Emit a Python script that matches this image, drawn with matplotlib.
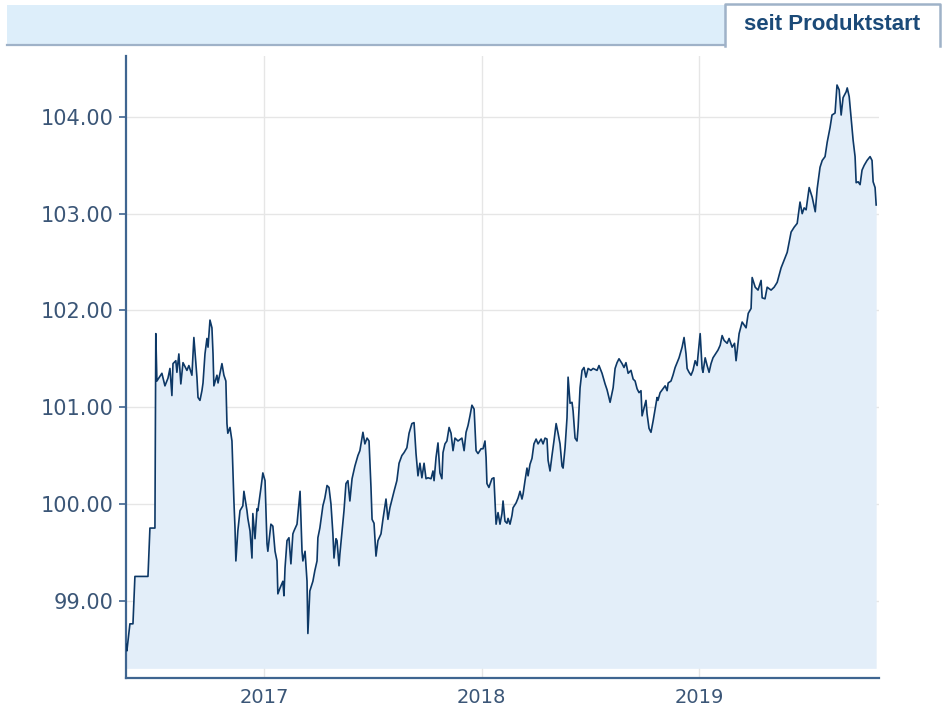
import matplotlib
matplotlib.use("Agg")
import matplotlib.pyplot as plt
from matplotlib.patches import Rectangle
from matplotlib.lines import Line2D

# ---- data (decimal years, price) ----
years = [
    2016.366, 2016.370, 2016.384, 2016.398, 2016.402, 2016.407, 2016.467, 2016.476, 2016.499, 2016.503,
    2016.508, 2016.531, 2016.545, 2016.559, 2016.568, 2016.577, 2016.582, 2016.595, 2016.600, 2016.609,
    2016.618, 2016.628, 2016.646, 2016.655, 2016.669, 2016.678, 2016.692, 2016.697, 2016.706, 2016.715,
    2016.720, 2016.729, 2016.738, 2016.743, 2016.752, 2016.761, 2016.766, 2016.770, 2016.784, 2016.789,
    2016.798, 2016.807, 2016.816, 2016.825, 2016.830, 2016.834, 2016.844, 2016.853, 2016.862, 2016.867,
    2016.871, 2016.880, 2016.890, 2016.903, 2016.908, 2016.917, 2016.922, 2016.926, 2016.936, 2016.945,
    2016.949, 2016.959, 2016.968, 2016.972, 2016.986, 2016.995, 2017.005, 2017.014, 2017.018, 2017.032,
    2017.041, 2017.051, 2017.060, 2017.064, 2017.074, 2017.087, 2017.092, 2017.097, 2017.106, 2017.115,
    2017.124, 2017.133, 2017.138, 2017.152, 2017.161, 2017.166, 2017.175, 2017.179, 2017.189, 2017.198,
    2017.202, 2017.211, 2017.221, 2017.225, 2017.234, 2017.244, 2017.248, 2017.257, 2017.271, 2017.280,
    2017.290, 2017.299, 2017.308, 2017.317, 2017.322, 2017.331, 2017.336, 2017.345, 2017.349, 2017.359,
    2017.368, 2017.377, 2017.386, 2017.395, 2017.405, 2017.418, 2017.432, 2017.441, 2017.455, 2017.464,
    2017.474, 2017.483, 2017.492, 2017.497, 2017.506, 2017.515, 2017.524, 2017.538, 2017.547, 2017.561,
    2017.570, 2017.579, 2017.589, 2017.598, 2017.611, 2017.621, 2017.634, 2017.644, 2017.657, 2017.667,
    2017.680, 2017.690, 2017.699, 2017.708, 2017.717, 2017.726, 2017.736, 2017.745, 2017.754, 2017.768,
    2017.777, 2017.782, 2017.791, 2017.800, 2017.809, 2017.818, 2017.823, 2017.832, 2017.841, 2017.851,
    2017.860, 2017.869, 2017.878, 2017.892, 2017.910, 2017.920, 2017.929, 2017.938, 2017.947, 2017.956,
    2017.966, 2017.975, 2017.984, 2017.998, 2018.007, 2018.016, 2018.021, 2018.025, 2018.034, 2018.048,
    2018.057, 2018.067, 2018.076, 2018.085, 2018.094, 2018.099, 2018.108, 2018.117, 2018.122, 2018.131,
    2018.140, 2018.145, 2018.159, 2018.168, 2018.177, 2018.186, 2018.191, 2018.200, 2018.209, 2018.214,
    2018.223, 2018.232, 2018.241, 2018.251, 2018.260, 2018.274, 2018.283, 2018.292, 2018.301, 2018.306,
    2018.315, 2018.324, 2018.333, 2018.343, 2018.352, 2018.361, 2018.370, 2018.375, 2018.384, 2018.393,
    2018.398, 2018.407, 2018.416, 2018.421, 2018.430, 2018.439, 2018.444, 2018.453, 2018.462, 2018.471,
    2018.480, 2018.490, 2018.503, 2018.513, 2018.531, 2018.540, 2018.554, 2018.568, 2018.577, 2018.591,
    2018.605, 2018.614, 2018.623, 2018.632, 2018.646, 2018.655, 2018.664, 2018.674, 2018.687, 2018.697,
    2018.706, 2018.715, 2018.724, 2018.733, 2018.738, 2018.747, 2018.756, 2018.761, 2018.770, 2018.779,
    2018.789, 2018.798, 2018.807, 2018.811, 2018.821, 2018.834, 2018.844, 2018.853, 2018.858, 2018.871,
    2018.880, 2018.890, 2018.899, 2018.908, 2018.922, 2018.931, 2018.940, 2018.945, 2018.954, 2018.963,
    2018.972, 2018.982, 2018.991, 2018.995, 2019.005, 2019.014, 2019.018, 2019.028, 2019.037, 2019.046,
    2019.055, 2019.064, 2019.078, 2019.087, 2019.097, 2019.106, 2019.115, 2019.129, 2019.138, 2019.152,
    2019.163, 2019.170, 2019.184, 2019.198, 2019.216, 2019.226, 2019.239, 2019.244, 2019.258, 2019.271,
    2019.285, 2019.290, 2019.303, 2019.313, 2019.331, 2019.345, 2019.359, 2019.377, 2019.391, 2019.405,
    2019.423, 2019.437, 2019.451, 2019.464, 2019.474, 2019.483, 2019.492, 2019.506, 2019.520, 2019.534,
    2019.543, 2019.556, 2019.566, 2019.579, 2019.589, 2019.602, 2019.611, 2019.625, 2019.634, 2019.644,
    2019.653, 2019.662, 2019.676, 2019.681, 2019.690, 2019.699, 2019.708, 2019.717, 2019.722, 2019.731,
    2019.740, 2019.749, 2019.759, 2019.772, 2019.786, 2019.795, 2019.800, 2019.809, 2019.814,
]
prices = [
    98.55, 98.48, 98.76, 98.76, 98.99, 99.25, 99.25, 99.75, 99.75, 101.76,
    101.27, 101.35, 101.22, 101.30, 101.40, 101.12, 101.45, 101.48, 101.36, 101.55,
    101.24, 101.46, 101.38, 101.43, 101.33, 101.72, 101.31, 101.10, 101.07, 101.17,
    101.25, 101.55, 101.71, 101.62, 101.90, 101.82, 101.55, 101.22, 101.33, 101.25,
    101.35, 101.45, 101.33, 101.27, 100.83, 100.73, 100.79, 100.65, 100.03, 99.75,
    99.41, 99.72, 99.93, 99.98, 100.13, 100.00, 99.93, 99.85, 99.72, 99.44,
    99.90, 99.64, 99.95, 99.93, 100.16, 100.32, 100.24, 99.59, 99.51, 99.79,
    99.77, 99.51, 99.41, 99.07, 99.13, 99.20, 99.05, 99.34, 99.62, 99.65,
    99.38, 99.69, 99.72, 99.79, 100.01, 100.13, 99.51, 99.41, 99.51, 99.20,
    98.66, 99.10, 99.17, 99.20, 99.31, 99.41, 99.65, 99.75, 99.98, 100.06,
    100.19, 100.17, 100.00, 99.69, 99.44, 99.64, 99.62, 99.36, 99.48, 99.72,
    99.93, 100.21, 100.24, 100.03, 100.26, 100.39, 100.50, 100.55, 100.74, 100.62,
    100.68, 100.65, 100.17, 99.84, 99.80, 99.46, 99.62, 99.69, 99.84, 100.05,
    99.84, 99.96, 100.05, 100.13, 100.24, 100.42, 100.50, 100.53, 100.58, 100.73,
    100.83, 100.84, 100.52, 100.29, 100.42, 100.27, 100.42, 100.26, 100.27, 100.26,
    100.34, 100.24, 100.48, 100.63, 100.32, 100.26, 100.53, 100.62, 100.65, 100.79,
    100.73, 100.55, 100.68, 100.65, 100.68, 100.55, 100.74, 100.81, 100.91, 101.02,
    100.98, 100.55, 100.52, 100.57, 100.57, 100.65, 100.48, 100.21, 100.17, 100.26,
    100.27, 99.79, 99.91, 99.79, 99.90, 100.03, 99.82, 99.80, 99.85, 99.79,
    99.88, 99.96, 100.01, 100.06, 100.13, 100.05, 100.10, 100.24, 100.37, 100.29,
    100.41, 100.47, 100.62, 100.67, 100.62, 100.67, 100.62, 100.68, 100.67, 100.45,
    100.34, 100.50, 100.65, 100.83, 100.73, 100.62, 100.39, 100.37, 100.58, 100.89,
    101.31, 101.04, 101.05, 100.96, 100.68, 100.65, 100.79, 101.20, 101.38, 101.41,
    101.31, 101.40, 101.38, 101.40, 101.38, 101.43, 101.35, 101.24, 101.18, 101.05,
    101.20, 101.40, 101.46, 101.50, 101.45, 101.41, 101.46, 101.35, 101.38, 101.29,
    101.27, 101.19, 101.15, 101.17, 100.91, 100.99, 101.07, 100.93, 100.78, 100.74,
    100.86, 100.98, 101.10, 101.07, 101.15, 101.19, 101.22, 101.17, 101.25, 101.27,
    101.33, 101.41, 101.46, 101.51, 101.62, 101.72, 101.55, 101.40, 101.36, 101.33,
    101.38, 101.48, 101.43, 101.53, 101.76, 101.40, 101.36, 101.51, 101.43, 101.36,
    101.45, 101.51, 101.56, 101.59, 101.64, 101.74, 101.69, 101.66, 101.71, 101.62,
    101.66, 101.48, 101.76, 101.88, 101.82, 101.97, 102.02, 102.34, 102.24, 102.21,
    102.31, 102.13, 102.12, 102.24, 102.21, 102.24, 102.29, 102.44, 102.52, 102.60,
    102.81, 102.86, 102.90, 103.12, 103.00, 103.06, 103.04, 103.27, 103.17, 103.02,
    103.26, 103.48, 103.55, 103.59, 103.74, 103.89, 104.02, 104.04, 104.33, 104.28,
    104.02, 104.20, 104.26, 104.30, 104.21, 103.99, 103.76, 103.59, 103.32, 103.33,
    103.30, 103.45, 103.50, 103.55, 103.59, 103.55, 103.33, 103.27, 103.09,
]
y_ticks = [99, 100, 101, 102, 103, 104]
x_ticks = [2017, 2018, 2019]
x_labels = ["2017", "2018", "2019"]
tab_label = "seit Produktstart"

W, H = 947, 708
fig = plt.figure(figsize=(W / 100, H / 100), dpi=100)
fig.patch.set_facecolor("white")

def fx(px):
    return px / W

def fy(py):
    return 1 - py / H

# ---- top banner ----
fig.patches.append(Rectangle((fx(7), fy(45)), fx(725) - fx(7), fy(5) - fy(45),
                             transform=fig.transFigure, facecolor="#ddeefa", edgecolor="none"))
border = "#9fb2c8"
fig.lines.append(Line2D([fx(7), fx(725)], [fy(45), fy(45)], transform=fig.transFigure,
                        color=border, lw=1.6))
fig.lines.append(Line2D([fx(725), fx(725), fx(940), fx(940)],
                        [fy(46), fy(4), fy(4), fy(46)], transform=fig.transFigure,
                        color=border, lw=1.8))
fig.text(fx(832), fy(25), tab_label, ha="center", va="center", fontsize=16,
         fontweight="bold", color="#1b4a78", family="Liberation Sans")

# ---- main axes ----
left, right, top, bottom = 126, 879, 56, 678
ax = fig.add_axes([fx(left), fy(bottom), fx(right) - fx(left), fy(top) - fy(bottom)])
ax.set_xlim(2016.366, 2019.827)
ax.set_ylim(98.20, 104.63)

ax.fill_between(years, prices, 98.30, color="#e3eef9", lw=0, zorder=1)
ax.plot(years, prices, color="#0d3866", lw=1.2, zorder=3)

ax.set_yticks(y_ticks)
ax.set_yticklabels([f"{v:.2f}" for v in y_ticks])
ax.set_xticks(x_ticks)
ax.set_xticklabels(x_labels)

ax.grid(True, color="#e6e6e6", lw=1.0, zorder=0)
ax.set_axisbelow(True)

spine_c = "#3f6590"
for s in ["top", "right"]:
    ax.spines[s].set_visible(False)
for s in ["left", "bottom"]:
    ax.spines[s].set_color(spine_c)
    ax.spines[s].set_linewidth(1.6)

label_c = "#3b5677"
ax.tick_params(axis="y", direction="out", length=5, width=1.2, color=spine_c,
               labelcolor=label_c, labelsize=15, pad=4)
ax.tick_params(axis="x", length=0, labelcolor=label_c, labelsize=14, pad=7)

fig.savefig("out.png", dpi=100, facecolor="white")
